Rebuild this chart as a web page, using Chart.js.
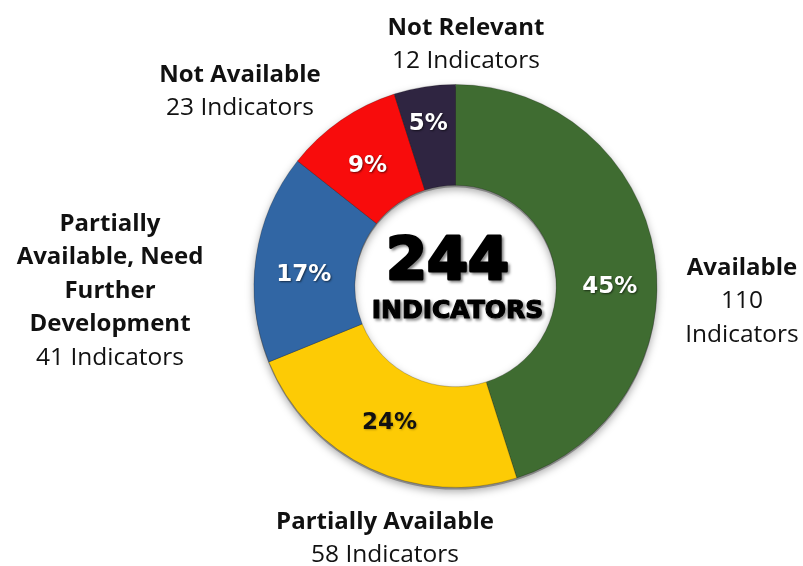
<!DOCTYPE html>
<html>
<head>
<meta charset="utf-8">
<script src="https://cdn.jsdelivr.net/npm/chart.js@4.4.1/dist/chart.umd.min.js"></script>
<style>
  html, body { margin: 0; padding: 0; background: #ffffff; }
  #wrap { width: 803px; height: 566px; }
</style>
</head>
<body>
<div id="wrap"><canvas id="c" width="803" height="566"></canvas></div>
<script>
// Indicator availability breakdown
const categories = ['Available', 'Partially Available', 'Partially Available, Need Further Development', 'Not Available', 'Not Relevant'];
const counts = [110, 58, 41, 23, 12];
const sliceColors = ['#3f6c31', '#fdcb05', '#3166a4', '#f80c0c', '#2f2541'];
const percentTextColors = ['#ffffff', '#111111', '#ffffff', '#ffffff', '#ffffff'];

// Outside label text blocks: bold heading lines, then the count line
const labelHeadings = [['Available'], ['Partially Available'], ['Partially', 'Available, Need', 'Further', 'Development'], ['Not Available'], ['Not Relevant']];
const labelCountLines = [['110', 'Indicators'], ['58 Indicators'], ['41 Indicators'], ['23 Indicators'], ['12 Indicators']];

// Placement of the outside text blocks (centre x, first-line y) and per-slice nudges of the percent labels
const labelAnchors = [[742, 268], [385, 522], [110, 224], [240, 75], [466, 28]];
const percentNudge = [[5, 24], [-2, 0], [-2, 10], [-2, 4], [-4, -13]];
const lineGap = 33.5;

const total = counts.reduce((a, b) => a + b, 0);

const labelPlugin = {
  id: 'labels',
  beforeDatasetsDraw(chart) {
    const ctx = chart.ctx;
    const arc = chart.getDatasetMeta(0).data[0];
    ctx.save();
    ctx.beginPath();
    ctx.arc(arc.x, arc.y + 2, arc.outerRadius, 0, Math.PI * 2);
    ctx.arc(arc.x, arc.y + 2, arc.innerRadius, 0, Math.PI * 2, true);
    ctx.shadowColor = 'rgba(0,0,0,0.35)';
    ctx.shadowBlur = 8;
    ctx.shadowOffsetY = 2;
    ctx.fillStyle = '#888';
    ctx.fill('evenodd');
    ctx.restore();
  },
  afterDraw(chart) {
    const ctx = chart.ctx;
    const meta = chart.getDatasetMeta(0);
    ctx.save();
    ctx.textAlign = 'center';
    ctx.textBaseline = 'middle';

    // percent labels inside the ring
    meta.data.forEach((el, i) => {
      const mid = (el.startAngle + el.endAngle) / 2;
      const r = (el.innerRadius + el.outerRadius) / 2;
      const x = el.x + Math.cos(mid) * r + percentNudge[i][0];
      const y = el.y + Math.sin(mid) * r + percentNudge[i][1];
      const pct = Math.round(counts[i] / total * 100) + '%';
      ctx.font = 'bold 23px "DejaVu Sans"';
      ctx.shadowColor = percentTextColors[i] === '#ffffff' ? 'rgba(0,0,0,0.55)' : 'rgba(0,0,0,0.25)';
      ctx.shadowBlur = 2;
      ctx.shadowOffsetX = 1;
      ctx.shadowOffsetY = 1;
      ctx.fillStyle = percentTextColors[i];
      ctx.fillText(pct, x, y);
    });

    // total in the hole
    const c = meta.data[0];
    ctx.shadowColor = 'rgba(0,0,0,0.4)';
    ctx.shadowBlur = 3;
    ctx.shadowOffsetX = 2;
    ctx.shadowOffsetY = 2;
    ctx.fillStyle = '#000';
    ctx.strokeStyle = '#000';
    ctx.lineJoin = 'round';
    ctx.font = 'bold 59px "DejaVu Sans"';
    ctx.lineWidth = 3;
    ctx.strokeText(String(total), c.x - 8, c.y - 22);
    ctx.fillText(String(total), c.x - 8, c.y - 22);
    ctx.font = 'bold 25px "DejaVu Sans"';
    ctx.lineWidth = 1.2;
    ctx.strokeText('INDICATORS', c.x + 2, c.y + 25);
    ctx.fillText('INDICATORS', c.x + 2, c.y + 25);

    // outside text blocks
    ctx.shadowColor = 'transparent';
    ctx.fillStyle = '#111';
    labelHeadings.forEach((heads, i) => {
      const [ax, ay] = labelAnchors[i];
      let y = ay;
      ctx.font = 'bold 24px "Open Sans"';
      heads.forEach(t => { ctx.fillText(t, ax, y); y += lineGap; });
      ctx.font = '24.5px "Open Sans"';
      labelCountLines[i].forEach(t => { ctx.fillText(t, ax, y); y += lineGap; });
    });
    ctx.restore();
  }
};

new Chart(document.getElementById('c'), {
  type: 'doughnut',
  data: {
    labels: categories,
    datasets: [{
      data: counts,
      backgroundColor: sliceColors,
      borderColor: 'rgba(0,0,0,0.22)',
      borderWidth: 1
    }]
  },
  options: {
    responsive: false,
    animation: false,
    cutout: '50%',
    layout: { padding: { left: 252, right: 144, top: 84, bottom: 78 } },
    plugins: { legend: { display: false }, tooltip: { enabled: false } }
  },
  plugins: [labelPlugin]
});
</script>
</body>
</html>
